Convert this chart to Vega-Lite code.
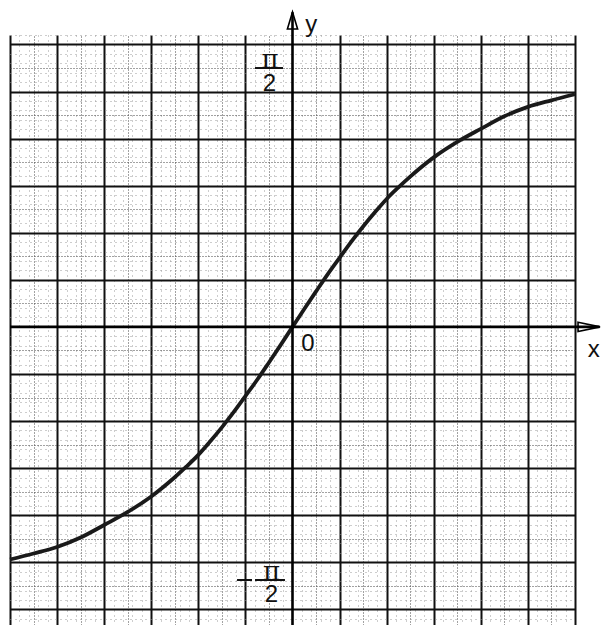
{
  "$schema": "https://vega.github.io/schema/vega-lite/v6.json",
  "width": 565,
  "height": 590,
  "autosize": "none",
  "padding": {"left": 10, "top": 35, "right": 28, "bottom": 0},
  "background": "white",
  "config": {
    "view": {"stroke": null},
    "axis": {"title": null, "labels": false, "ticks": false, "domain": false, "gridOpacity": 1}
  },
  "resolve": {"scale": {"x": "independent", "y": "independent"}},
  "layer": [
    {
      "data": {"values": [{}]},
      "mark": {"type": "point", "opacity": 0},
      "encoding": {
        "x": {
          "datum": 0, "type": "quantitative",
          "scale": {"domain": [-3, 3], "nice": false, "zero": false},
          "axis": {
            "grid": true, "gridColor": "#9a9a9a", "gridWidth": 1, "gridDash": [1, 4],
            "values": [-2.9, -2.8, -2.7, -2.6, -2.4, -2.3, -2.2, -2.1, -1.9, -1.8, -1.7, -1.6, -1.4, -1.3, -1.2, -1.1, -0.9, -0.8, -0.7, -0.6, -0.4, -0.3, -0.2, -0.1, 0.1, 0.2, 0.3, 0.4, 0.6, 0.7, 0.8, 0.9, 1.1, 1.2, 1.3, 1.4, 1.6, 1.7, 1.8, 1.9, 2.1, 2.2, 2.3, 2.4, 2.6, 2.7, 2.8, 2.9]
          }
        },
        "y": {
          "datum": 0, "type": "quantitative",
          "scale": {"domain": [-1.8286, 1.7906], "nice": false, "zero": false},
          "axis": {
            "grid": true, "gridColor": "#9a9a9a", "gridWidth": 1, "gridDash": [1, 4],
            "values": [-1.7906, -1.675, -1.6173, -1.5595, -1.5018, -1.3862, -1.3285, -1.2707, -1.213, -1.0974, -1.0397, -0.9819, -0.9242, -0.8086, -0.7509, -0.6931, -0.6354, -0.5198, -0.4621, -0.4043, -0.3466, -0.231, -0.1733, -0.1155, -0.0578, 0.0578, 0.1155, 0.1733, 0.231, 0.3466, 0.4043, 0.4621, 0.5198, 0.6354, 0.6931, 0.7509, 0.8086, 0.9242, 0.9819, 1.0397, 1.0974, 1.213, 1.2707, 1.3285, 1.3862, 1.5018, 1.5595, 1.6173, 1.675, 1.7906]
          }
        }
      }
    },
    {
      "data": {"values": [{}]},
      "mark": {"type": "point", "opacity": 0},
      "encoding": {
        "x": {
          "datum": 0, "type": "quantitative",
          "scale": {"domain": [-3, 3], "nice": false, "zero": false},
          "axis": {
            "grid": true, "gridColor": "#444444", "gridWidth": 1, "gridDash": [1, 2],
            "values": [-2.75, -2.25, -1.75, -1.25, -0.75, -0.25, 0.25, 0.75, 1.25, 1.75, 2.25, 2.75]
          }
        },
        "y": {
          "datum": 0, "type": "quantitative",
          "scale": {"domain": [-1.8286, 1.7906], "nice": false, "zero": false},
          "axis": {
            "grid": true, "gridColor": "#444444", "gridWidth": 1, "gridDash": [1, 2],
            "values": [-1.5884, -1.2996, -1.0108, -0.722, -0.4332, -0.1444, 0.1444, 0.4332, 0.722, 1.0108, 1.2996, 1.5884]
          }
        }
      }
    },
    {
      "data": {"values": [{}]},
      "mark": {"type": "point", "opacity": 0},
      "encoding": {
        "x": {
          "datum": 0, "type": "quantitative",
          "scale": {"domain": [-3, 3], "nice": false, "zero": false},
          "axis": {
            "grid": true, "gridColor": "#111111", "gridWidth": 2,
            "values": [-3, -2.5, -2, -1.5, -1, -0.5, 0.5, 1, 1.5, 2, 2.5, 3]
          }
        },
        "y": {
          "datum": 0, "type": "quantitative",
          "scale": {"domain": [-1.8286, 1.7906], "nice": false, "zero": false},
          "axis": {
            "grid": true, "gridColor": "#111111", "gridWidth": 2,
            "values": [-1.7328, -1.444, -1.1552, -0.8664, -0.5776, -0.2888, 0.2888, 0.5776, 0.8664, 1.1552, 1.444, 1.7328]
          }
        }
      }
    },
    {
      "data": {
        "values": [
          {"x": -3.0, "y": -1.427},
          {"x": -2.75, "y": -1.39},
          {"x": -2.5, "y": -1.35},
          {"x": -2.25, "y": -1.292},
          {"x": -2.0, "y": -1.215},
          {"x": -1.75, "y": -1.135},
          {"x": -1.5, "y": -1.04},
          {"x": -1.25, "y": -0.922},
          {"x": -1.125, "y": -0.856},
          {"x": -1.0, "y": -0.785},
          {"x": -0.875, "y": -0.703},
          {"x": -0.75, "y": -0.616},
          {"x": -0.625, "y": -0.523},
          {"x": -0.5, "y": -0.424},
          {"x": -0.375, "y": -0.324},
          {"x": -0.25, "y": -0.218},
          {"x": -0.125, "y": -0.11},
          {"x": 0.0, "y": 0.0},
          {"x": 0.125, "y": 0.11},
          {"x": 0.25, "y": 0.218},
          {"x": 0.375, "y": 0.324},
          {"x": 0.5, "y": 0.424},
          {"x": 0.625, "y": 0.523},
          {"x": 0.75, "y": 0.616},
          {"x": 0.875, "y": 0.703},
          {"x": 1.0, "y": 0.785},
          {"x": 1.125, "y": 0.856},
          {"x": 1.25, "y": 0.922},
          {"x": 1.5, "y": 1.04},
          {"x": 1.75, "y": 1.135},
          {"x": 2.0, "y": 1.215},
          {"x": 2.25, "y": 1.292},
          {"x": 2.5, "y": 1.35},
          {"x": 2.75, "y": 1.39},
          {"x": 3.0, "y": 1.427}
        ]
      },
      "mark": {"type": "line", "interpolate": "monotone", "stroke": "#1a1a1a", "strokeWidth": 3.8},
      "encoding": {
        "x": {"field": "x", "type": "quantitative", "scale": {"domain": [-3, 3], "nice": false, "zero": false}, "axis": null},
        "y": {"field": "y", "type": "quantitative", "scale": {"domain": [-1.8286, 1.7906], "nice": false, "zero": false}, "axis": null}
      }
    },
    {
      "data": {"values": [{}]},
      "mark": {"type": "rule", "stroke": "#000000", "strokeWidth": 2.6},
      "encoding": {
        "x": {"datum": -3, "type": "quantitative", "scale": {"domain": [-3, 3], "nice": false, "zero": false}, "axis": null},
        "x2": {"datum": 3.26},
        "y": {"datum": 0, "type": "quantitative", "scale": {"domain": [-1.8286, 1.7906], "nice": false, "zero": false}, "axis": null}
      }
    },
    {
      "data": {"values": [{}]},
      "mark": {"type": "rule", "stroke": "#000000", "strokeWidth": 2.6},
      "encoding": {
        "x": {"datum": 0, "type": "quantitative", "scale": {"domain": [-3, 3], "nice": false, "zero": false}, "axis": null},
        "y": {"datum": -1.8286, "type": "quantitative", "scale": {"domain": [-1.8286, 1.7906], "nice": false, "zero": false}, "axis": null},
        "y2": {"datum": 1.93}
      }
    },
    {
      "data": {"values": [{}]},
      "mark": {"type": "point", "shape": "M-1,-0.42L1,0L-1,0.42Z", "size": 484, "filled": false, "stroke": "#000000", "strokeWidth": 1.6, "opacity": 1},
      "encoding": {
        "x": {"datum": 3.149, "type": "quantitative", "scale": {"domain": [-3, 3], "nice": false, "zero": false}, "axis": null},
        "y": {"datum": 0, "type": "quantitative", "scale": {"domain": [-1.8286, 1.7906], "nice": false, "zero": false}, "axis": null}
      }
    },
    {
      "data": {"values": [{}]},
      "mark": {"type": "point", "shape": "M-0.6,1L0,-1L0.6,1Z", "size": 289, "filled": false, "stroke": "#000000", "strokeWidth": 1.6, "opacity": 1},
      "encoding": {
        "x": {"datum": 0, "type": "quantitative", "scale": {"domain": [-3, 3], "nice": false, "zero": false}, "axis": null},
        "y": {"datum": 1.8795, "type": "quantitative", "scale": {"domain": [-1.8286, 1.7906], "nice": false, "zero": false}, "axis": null}
      }
    },
    {
      "data": {"values": [{}]},
      "mark": {"type": "text", "text": "y", "font": "Liberation Sans", "fontSize": 24, "align": "center", "baseline": "middle", "color": "#111111"},
      "encoding": {
        "x": {"datum": 0.2, "type": "quantitative", "scale": {"domain": [-3, 3], "nice": false, "zero": false}, "axis": null},
        "y": {"datum": 1.852, "type": "quantitative", "scale": {"domain": [-1.8286, 1.7906], "nice": false, "zero": false}, "axis": null}
      }
    },
    {
      "data": {"values": [{}]},
      "mark": {"type": "text", "text": "x", "font": "Liberation Sans", "fontSize": 24, "align": "center", "baseline": "middle", "color": "#111111"},
      "encoding": {
        "x": {"datum": 3.2, "type": "quantitative", "scale": {"domain": [-3, 3], "nice": false, "zero": false}, "axis": null},
        "y": {"datum": -0.142, "type": "quantitative", "scale": {"domain": [-1.8286, 1.7906], "nice": false, "zero": false}, "axis": null}
      }
    },
    {
      "data": {"values": [{}]},
      "mark": {"type": "text", "text": "0", "font": "Liberation Sans", "fontSize": 24, "align": "center", "baseline": "middle", "color": "#111111"},
      "encoding": {
        "x": {"datum": 0.165, "type": "quantitative", "scale": {"domain": [-3, 3], "nice": false, "zero": false}, "axis": null},
        "y": {"datum": -0.105, "type": "quantitative", "scale": {"domain": [-1.8286, 1.7906], "nice": false, "zero": false}, "axis": null}
      }
    },
    {
      "data": {"values": [{}]},
      "mark": {"type": "text", "text": "π", "font": "DejaVu Serif", "fontSize": 26, "align": "center", "baseline": "middle", "color": "#111111"},
      "encoding": {
        "x": {"datum": -0.239, "type": "quantitative", "scale": {"domain": [-3, 3], "nice": false, "zero": false}, "axis": null},
        "y": {"datum": 1.637, "type": "quantitative", "scale": {"domain": [-1.8286, 1.7906], "nice": false, "zero": false}, "axis": null}
      }
    },
    {
      "data": {"values": [{}]},
      "mark": {"type": "rule", "stroke": "#111111", "strokeWidth": 2},
      "encoding": {
        "x": {"datum": -0.398, "type": "quantitative", "scale": {"domain": [-3, 3], "nice": false, "zero": false}, "axis": null},
        "x2": {"datum": -0.101},
        "y": {"datum": 1.588, "type": "quantitative", "scale": {"domain": [-1.8286, 1.7906], "nice": false, "zero": false}, "axis": null}
      }
    },
    {
      "data": {"values": [{}]},
      "mark": {"type": "text", "text": "2", "font": "Liberation Sans", "fontSize": 24, "align": "center", "baseline": "middle", "color": "#111111"},
      "encoding": {
        "x": {"datum": -0.244, "type": "quantitative", "scale": {"domain": [-3, 3], "nice": false, "zero": false}, "axis": null},
        "y": {"datum": 1.49, "type": "quantitative", "scale": {"domain": [-1.8286, 1.7906], "nice": false, "zero": false}, "axis": null}
      }
    },
    {
      "data": {"values": [{}]},
      "mark": {"type": "rule", "stroke": "#111111", "strokeWidth": 2},
      "encoding": {
        "x": {"datum": -0.589, "type": "quantitative", "scale": {"domain": [-3, 3], "nice": false, "zero": false}, "axis": null},
        "x2": {"datum": -0.43},
        "y": {"datum": -1.5526, "type": "quantitative", "scale": {"domain": [-1.8286, 1.7906], "nice": false, "zero": false}, "axis": null}
      }
    },
    {
      "data": {"values": [{}]},
      "mark": {"type": "text", "text": "π", "font": "DejaVu Serif", "fontSize": 26, "align": "center", "baseline": "middle", "color": "#111111"},
      "encoding": {
        "x": {"datum": -0.223, "type": "quantitative", "scale": {"domain": [-3, 3], "nice": false, "zero": false}, "axis": null},
        "y": {"datum": -1.5035, "type": "quantitative", "scale": {"domain": [-1.8286, 1.7906], "nice": false, "zero": false}, "axis": null}
      }
    },
    {
      "data": {"values": [{}]},
      "mark": {"type": "rule", "stroke": "#111111", "strokeWidth": 2},
      "encoding": {
        "x": {"datum": -0.398, "type": "quantitative", "scale": {"domain": [-3, 3], "nice": false, "zero": false}, "axis": null},
        "x2": {"datum": -0.08},
        "y": {"datum": -1.5526, "type": "quantitative", "scale": {"domain": [-1.8286, 1.7906], "nice": false, "zero": false}, "axis": null}
      }
    },
    {
      "data": {"values": [{}]},
      "mark": {"type": "text", "text": "2", "font": "Liberation Sans", "fontSize": 24, "align": "center", "baseline": "middle", "color": "#111111"},
      "encoding": {
        "x": {"datum": -0.223, "type": "quantitative", "scale": {"domain": [-3, 3], "nice": false, "zero": false}, "axis": null},
        "y": {"datum": -1.6446, "type": "quantitative", "scale": {"domain": [-1.8286, 1.7906], "nice": false, "zero": false}, "axis": null}
      }
    }
  ]
}
